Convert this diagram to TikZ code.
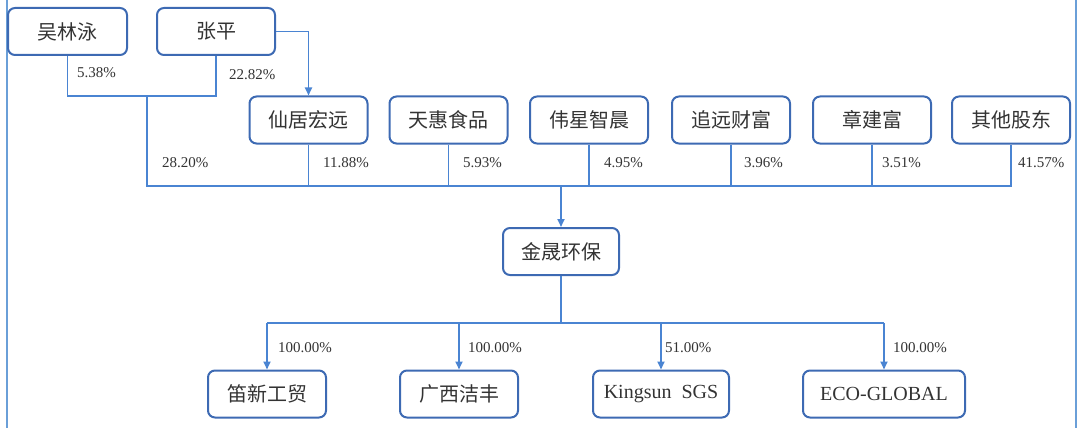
\documentclass[tikz,border=0pt]{standalone}
\usepackage{fontspec}
\setmainfont{Liberation Serif}
\newfontfamily\cjk{Noto Sans CJK SC}
\usetikzlibrary{arrows.meta}

\definecolor{boxblue}{HTML}{3D6AB3}
\definecolor{lineblue}{HTML}{4A84D2}
\definecolor{frameblue}{HTML}{6A9FD8}

\tikzstyle{firm}=[draw=boxblue, line width=2pt, rounded corners=7pt, inner sep=0pt, minimum height=47pt, text=black!80, font=\cjk\fontsize{20}{24}\selectfont]
\tikzstyle{link}=[lineblue, line width=1.8pt]
\tikzstyle{share}=[anchor=west, inner sep=0pt, text=black!80, font=\fontsize{15}{16}\selectfont]

\begin{document}
\begin{tikzpicture}[x=1pt, y=-1pt]
	
	\useasboundingbox (0,0) rectangle (1080,428);
	
	% Edges of the original frame
	\draw[frameblue, line width=1.4pt] (7,0) -- (7,428);
	\draw[frameblue, line width=1.4pt] (1076,0) -- (1076,428);
	
	% Shareholders
	\node[firm, minimum width=119pt] (wu) at (67.5,31.5) {吴林泳};
	\node[firm, minimum width=118pt] (zhang) at (216,31.5) {张平};
	\foreach \n/\x/\t in {xj/308.5/仙居宏远, th/448.5/天惠食品, wx/589/伟星智晨, zy/731/追远财富, zj/872/章建富, qt/1011/其他股东} {
		\node[firm, minimum width=118pt] (\n) at (\x,120) {\t};
	}
	
	% Company and subsidiaries
	\node[firm, minimum width=116pt] (js) at (561,251.5) {金晟环保};
	\node[firm, minimum width=118pt] (dx) at (267,394) {笛新工贸};
	\node[firm, minimum width=118pt] (gx) at (459,394) {广西洁丰};
	\node[firm, minimum width=136pt, font=\fontsize{20}{24}\selectfont] (ks) at (661,394) {Kingsun\ \ SGS};
	\node[firm, minimum width=162pt, font=\fontsize{20}{24}\selectfont] (eco) at (884,394) {ECO-GLOBAL};
	
	\coordinate (pair) at (147,96);
	\coordinate (busR) at (1011,186);
	\coordinate (low) at (561,323);
	
	% Upper connectors
	\draw[link] (wu.south) |- (pair) -| (zhang.south);
	\draw[link] (pair) |- (busR) -- (qt.south);
	\foreach \n in {xj, th, wx, zy, zj} {
		\draw[link] (\n.south) -- (\n.south |- busR);
	}
	\draw[link, -{Triangle[length=8pt, width=7pt]}] (zhang.east) -| (xj.north);
	\draw[link, -{Triangle[length=8pt, width=7pt]}] (js.north |- busR) -- (js.north);
	
	% Lower connectors
	\draw[link] (js.south) -- (low);
	\draw[link] (dx.north |- low) -- (eco.north |- low);
	\foreach \n in {dx, gx, ks, eco} {
		\draw[link, -{Triangle[length=8pt, width=7pt]}] (\n.north |- low) -- (\n.north);
	}
	
	% Percentages
	\node[share] (p1) at (77,73) {5.38\%};
	\node[share] (p2) at (229,75) {22.82\%};
	\node[share] (p3) at (162,163) {28.20\%};
	\node[share] (p4) at (323,163) {11.88\%};
	\node[share] (p5) at (463,163) {5.93\%};
	\node[share] (p6) at (604,163) {4.95\%};
	\node[share] (p7) at (744,163) {3.96\%};
	\node[share] (p8) at (882,163) {3.51\%};
	\node[share] (p9) at (1018,163) {41.57\%};
	\node[share] (q1) at (278,348) {100.00\%};
	\node[share] (q2) at (468,348) {100.00\%};
	\node[share] (q3) at (665,348) {51.00\%};
	\node[share] (q4) at (893,348) {100.00\%};
	
\end{tikzpicture}
\end{document}
